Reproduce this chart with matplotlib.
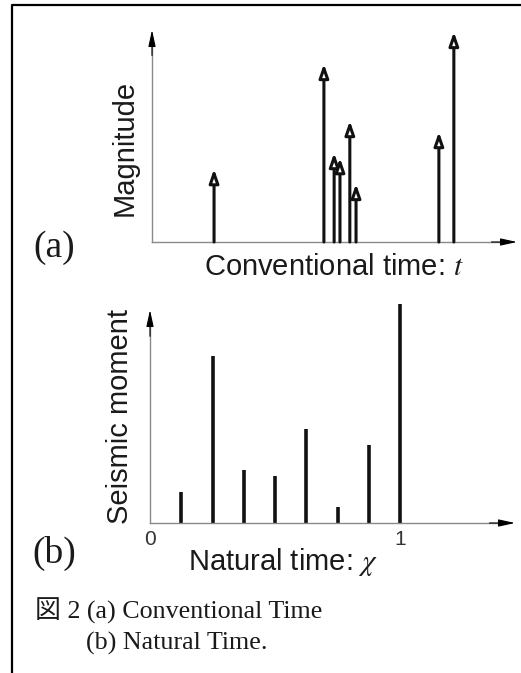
import numpy as np
from matplotlib import pyplot as plt
from matplotlib.lines import Line2D

plt.rcParams['font.family'] = ['Liberation Sans', 'DejaVu Sans']
plt.rcParams['mathtext.fontset'] = 'stix'

# (a) event times (arbitrary units) and magnitudes
t_events = [17.0, 47.1, 49.9, 51.5, 54.2, 55.9, 78.6, 82.7]
magnitude = [3.44, 8.40, 4.20, 3.96, 5.71, 2.74, 5.19, 9.91]

# (b) natural time chi_k = k/N and normalised seismic moment
chi = [1/8, 2/8, 3/8, 4/8, 5/8, 6/8, 7/8, 8/8]
moment = [0.143, 0.763, 0.242, 0.215, 0.429, 0.073, 0.356, 1.0]
chi_ticks = [0, 1]
chi_ticklabels = ['0', '1']

W, H = 521, 673
fig = plt.figure(figsize=(W/100, H/100), dpi=100)

def px(x, y):
    return x/W, 1 - y/H

# outer frame (top and left)
fig.add_artist(Line2D([12/W, 12/W, 1.0], [0, 1-5/H, 1-5/H],
                      transform=fig.transFigure, color='black', lw=1.6))

axis_gray = '#8a8a8a'
txt = '#1a1a1a'

def draw_axes(ax, ytop):
    ax.set_facecolor('none')
    for s in ax.spines.values():
        s.set_visible(False)
    ax.plot([0, 0.97], [0, 0], transform=ax.transAxes, color=axis_gray, lw=1.0, clip_on=False)
    ax.plot([0, 0], [0, ytop - 0.03], transform=ax.transAxes, color=axis_gray, lw=1.0, clip_on=False)
    ax.annotate('', xy=(1, 0), xytext=(0.93, 0), xycoords='axes fraction',
                arrowprops=dict(arrowstyle='-|>,head_length=1.0,head_width=0.22',
                                color='black', lw=0.8, shrinkA=0, shrinkB=0))
    ax.annotate('', xy=(0, ytop), xytext=(0, ytop - 0.12), xycoords='axes fraction',
                arrowprops=dict(arrowstyle='-|>,head_length=1.0,head_width=0.22',
                                color='black', lw=0.8, shrinkA=0, shrinkB=0))

# ---- panel (a)
l, b = px(152, 242)
ax1 = fig.add_axes([l, b, 365/W, 212/H])
ax1.set_xlim(0, 100)
ax1.set_ylim(0, 10)
ax1.set_xticks([])
ax1.set_yticks([])
draw_axes(ax1, 1.0)
for t, m in zip(t_events, magnitude):
    ax1.annotate('', xy=(t, m), xytext=(t, 0), xycoords='data',
                 arrowprops=dict(arrowstyle='-|>,head_length=0.8,head_width=0.28',
                                 fc='white', ec='#111111', lw=2.2,
                                 shrinkA=0, shrinkB=0))

fig.text(*px(125, 148), 'Magnitude', rotation=90, ha='center', va='center',
         fontsize=21, color=txt)
fig.text(*px(334, 267), 'Conventional time: $t$', ha='center', va='center',
         fontsize=21, color=txt)
fig.text(*px(54, 248), '(a)', ha='center', va='center', fontsize=27,
         family='Liberation Serif', color=txt)

# ---- panel (b)
l, b = px(150, 523)
ax2 = fig.add_axes([l, b, 365/W, 219/H])
ax2.set_xlim(0, 365/250)
ax2.set_ylim(0, 1.0)
ax2.vlines(chi, 0, moment, color='#111111', lw=2.6)
ax2.set_yticks([])
ax2.set_xticks(chi_ticks, chi_ticklabels)
ax2.tick_params(axis='x', length=0, pad=5, labelsize=15, labelcolor='#333333')
draw_axes(ax2, 213/219)

fig.text(*px(120, 416), 'Seismic moment', rotation=90, ha='center', va='center',
         fontsize=21, color=txt)
fig.text(*px(283, 562), 'Natural time: $\\chi$', ha='center', va='center',
         fontsize=21, color=txt)
fig.text(*px(54, 553), '(b)', ha='center', va='center', fontsize=27,
         family='Liberation Serif', color=txt)

# ---- caption
cap_font = ['Liberation Serif', 'Noto Sans CJK JP']
fig.text(*px(35, 611), '図 2 (a) Conventional Time', ha='left', va='center',
         fontsize=18.7, family=cap_font, color=txt)
fig.text(*px(86, 643), '(b) Natural Time.', ha='left', va='center',
         fontsize=18.7, family=cap_font, color=txt)

fig.savefig('out.png', dpi=100)
